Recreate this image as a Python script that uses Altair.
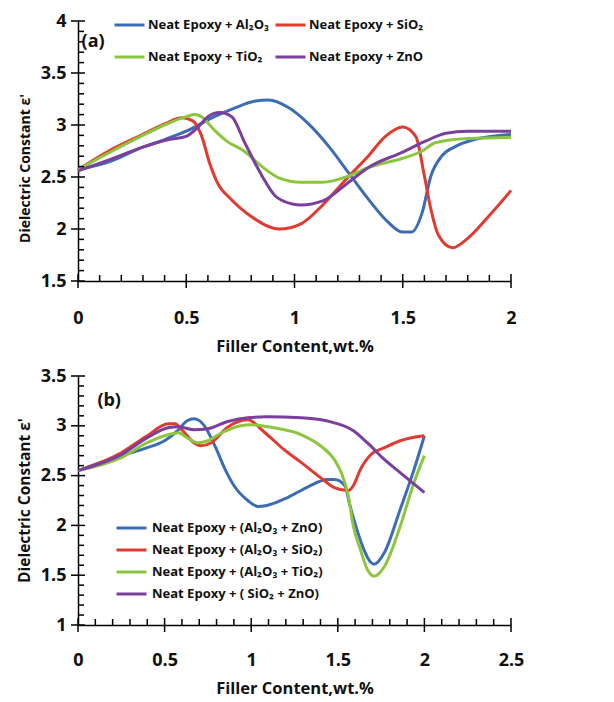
import altair as alt
import pandas as pd
import numpy as np

FONT = "Open Sans"

# ---------------- Panel (a) data ----------------
a_names = ["Neat Epoxy + Al₂O₃", "Neat Epoxy + SiO₂", "Neat Epoxy + TiO₂", "Neat Epoxy + ZnO"]
a_colors = ["#3C6DB4", "#E03A31", "#8CC63E", "#7B3F9E"]

a_al_x = [0, 0.15, 0.29, 0.40, 0.5, 0.63, 0.72, 0.82, 0.88, 0.97, 1.06, 1.16, 1.25, 1.34, 1.43, 1.5, 1.54, 1.59, 1.63, 1.68, 1.74, 1.83, 2.0]
a_al_y = [2.57, 2.65, 2.78, 2.86, 2.94, 3.08, 3.16, 3.23, 3.24, 3.17, 3.02, 2.79, 2.54, 2.29, 2.07, 1.97, 1.97, 2.16, 2.51, 2.70, 2.79, 2.86, 2.91]

a_si_x = [0, 0.15, 0.29, 0.40, 0.48, 0.53, 0.57, 0.61, 0.65, 0.70, 0.80, 0.93, 1.03, 1.13, 1.23, 1.34, 1.42, 1.50, 1.56, 1.60, 1.63, 1.665, 1.73, 1.80, 1.90, 2.0]
a_si_y = [2.57, 2.76, 2.90, 3.01, 3.07, 3.04, 2.90, 2.62, 2.42, 2.30, 2.12, 2.00, 2.05, 2.23, 2.46, 2.70, 2.89, 2.98, 2.89, 2.51, 2.19, 1.94, 1.82, 1.91, 2.13, 2.37]

a_ti_x = [0, 0.15, 0.29, 0.40, 0.5, 0.54, 0.57, 0.63, 0.69, 0.76, 0.85, 0.93, 1.03, 1.13, 1.25, 1.34, 1.5, 1.59, 1.65, 1.8, 2.0]
a_ti_y = [2.57, 2.74, 2.89, 3.00, 3.08, 3.10, 3.08, 2.95, 2.84, 2.76, 2.60, 2.49, 2.45, 2.45, 2.51, 2.59, 2.68, 2.75, 2.83, 2.87, 2.88]

a_zn_x = [0, 0.15, 0.29, 0.42, 0.5, 0.555, 0.60, 0.655, 0.71, 0.77, 0.85, 0.91, 0.99, 1.03, 1.13, 1.25, 1.34, 1.5, 1.6, 1.7, 1.8, 2.0]
a_zn_y = [2.56, 2.67, 2.78, 2.86, 2.89, 2.98, 3.08, 3.12, 3.08, 2.83, 2.51, 2.32, 2.24, 2.23, 2.27, 2.45, 2.59, 2.74, 2.84, 2.92, 2.94, 2.94]

# ---------------- Panel (b) data ----------------
b_names = ["Neat Epoxy + (Al₂O₃ + ZnO)", "Neat Epoxy + (Al₂O₃ + SiO₂)", "Neat Epoxy + (Al₂O₃ + TiO₂)", "Neat Epoxy + ( SiO₂ + ZnO)"]
b_colors = ["#3C6DB4", "#E03A31", "#8CC63E", "#7B3F9E"]

b_alzn_x = [0, 0.25, 0.40, 0.5, 0.58, 0.63, 0.67, 0.73, 0.79, 0.85, 0.90, 0.98, 1.04, 1.09, 1.21, 1.32, 1.44, 1.48, 1.54, 1.57, 1.61, 1.65, 1.69, 1.71, 1.77, 1.86, 1.94, 2.0]
b_alzn_y = [2.55, 2.70, 2.78, 2.85, 2.96, 3.05, 3.07, 3.00, 2.80, 2.56, 2.40, 2.25, 2.19, 2.20, 2.28, 2.38, 2.46, 2.46, 2.40, 2.20, 1.96, 1.76, 1.63, 1.61, 1.73, 2.16, 2.56, 2.90]

b_alsi_x = [0, 0.25, 0.40, 0.52, 0.56, 0.60, 0.67, 0.71, 0.77, 0.86, 0.98, 1.08, 1.19, 1.29, 1.40, 1.48, 1.56, 1.59, 1.63, 1.69, 1.77, 1.86, 2.0]
b_alsi_y = [2.55, 2.73, 2.90, 3.02, 3.02, 2.96, 2.83, 2.80, 2.83, 2.98, 3.06, 2.93, 2.76, 2.63, 2.48, 2.38, 2.35, 2.40, 2.56, 2.71, 2.78, 2.85, 2.90]

b_alti_x = [0, 0.25, 0.40, 0.52, 0.58, 0.63, 0.69, 0.75, 0.83, 0.94, 1.0, 1.13, 1.29, 1.40, 1.48, 1.52, 1.56, 1.59, 1.63, 1.67, 1.71, 1.77, 1.86, 1.94, 2.0]
b_alti_y = [2.55, 2.68, 2.83, 2.91, 2.93, 2.88, 2.83, 2.85, 2.93, 3.00, 3.01, 2.98, 2.91, 2.80, 2.66, 2.53, 2.30, 1.99, 1.76, 1.56, 1.49, 1.59, 1.99, 2.43, 2.70]

b_sizn_x = [0, 0.25, 0.40, 0.52, 0.58, 0.67, 0.75, 0.86, 0.98, 1.09, 1.29, 1.48, 1.59, 1.67, 1.77, 1.86, 2.0]
b_sizn_y = [2.55, 2.71, 2.88, 2.98, 2.99, 2.96, 2.97, 3.04, 3.08, 3.09, 3.08, 3.03, 2.95, 2.83, 2.66, 2.53, 2.33]

# axis ticks / labels
a_x_major = [0, 0.5, 1, 1.5, 2]
a_y_major = [1.5, 2, 2.5, 3, 3.5, 4]
b_x_major = [0, 0.5, 1, 1.5, 2, 2.5]
b_y_major = [1, 1.5, 2, 2.5, 3, 3.5]
panel_labels = ["(a)", "(b)"]
a_label_pos = (0.07, 3.80)
b_label_pos = (0.18, 3.25)


def minor_ticks(lo, hi, step, majors):
    vals = np.round(np.arange(lo, hi + 1e-9, step), 3)
    return [float(v) for v in vals if not any(abs(v - m) < 1e-6 for m in majors)]


def panel(series, names, colors, xdom, ydom, xmaj, ymaj, w, h, label, lpos,
          legend, xlabpad, xtitlepad, ytitle_size, ytitle_y):
    rows = []
    for nm, xs, ys in series:
        rows += [{"x": a, "y": b, "s": nm} for a, b in zip(xs, ys)]
    df = pd.DataFrame(rows)

    xaxis = alt.Axis(values=xmaj, format="~g", ticks=False, grid=False,
                     domainColor="black", domainWidth=1.5,
                     labelFont=FONT, labelFontSize=18, labelFontWeight="bold",
                     labelColor="#111", labelPadding=xlabpad,
                     title="Filler Content,wt.%", titleFont=FONT,
                     titleFontSize=16.5, titleFontWeight="bold", titleColor="#111",
                     titlePadding=xtitlepad, labelFlush=False)
    yaxis = alt.Axis(values=ymaj, format="~g", ticks=False, grid=False,
                     domainColor="black", domainWidth=1.5,
                     labelFont=FONT, labelFontSize=18, labelFontWeight="bold",
                     labelColor="#111", labelPadding=12,
                     title="Dielectric Constant ε'", titleFont=FONT,
                     titleFontSize=ytitle_size, titleFontWeight="bold", titleColor="#111",
                     titlePadding=8, titleY=ytitle_y, labelFlush=False)
    xenc = alt.X("x:Q", scale=alt.Scale(domain=xdom, nice=False, zero=False), axis=xaxis)
    yenc = alt.Y("y:Q", scale=alt.Scale(domain=ydom, nice=False, zero=False), axis=yaxis)

    lines = alt.Chart(df).mark_line(strokeWidth=3, interpolate="monotone").encode(
        x=xenc, y=yenc,
        color=alt.Color("s:N", sort=names,
                        scale=alt.Scale(domain=names, range=colors),
                        legend=legend),
        detail="s:N",
    )

    xt_major = pd.DataFrame({"x": xmaj})
    xt_minor = pd.DataFrame({"x": minor_ticks(xdom[0], xdom[1], 0.1, xmaj)})
    yt_major = pd.DataFrame({"y": ymaj})
    yt_minor = pd.DataFrame({"y": minor_ticks(ydom[0], ydom[1], 0.1, ymaj)})

    tick_style = dict(color="black", strokeWidth=1.5)
    r1 = alt.Chart(xt_major).mark_rule(**tick_style).encode(
        x=xenc, y=alt.value(h + 7), y2=alt.value(h - 7))
    r2 = alt.Chart(xt_minor).mark_rule(**tick_style).encode(
        x=xenc, y=alt.value(h), y2=alt.value(h - 6))
    r3 = alt.Chart(yt_major).mark_rule(**tick_style).encode(
        y=yenc, x=alt.value(-7), x2=alt.value(7))
    r4 = alt.Chart(yt_minor).mark_rule(**tick_style).encode(
        y=yenc, x=alt.value(0), x2=alt.value(6))

    lab = alt.Chart(pd.DataFrame({"x": [lpos[0]], "y": [lpos[1]], "t": [label]})).mark_text(
        font=FONT, fontSize=18, fontWeight="bold", color="#111"
    ).encode(x=xenc, y=yenc, text="t:N")

    return alt.layer(lines, r1, r2, r3, r4, lab).properties(width=w, height=h)


legend_a = alt.Legend(orient="none", legendX=35, legendY=-4, columns=2,
                      direction="horizontal", clipHeight=16,
                      symbolType="stroke", symbolSize=900, symbolStrokeWidth=3,
                      labelFont=FONT, labelFontSize=13, labelFontWeight="bold",
                      labelColor="#111", title=None, columnPadding=5,
                      rowPadding=16, labelOffset=2, padding=0, labelLimit=300)
legend_b = alt.Legend(orient="none", legendX=37, legendY=144, columns=1,
                      direction="vertical", clipHeight=16,
                      symbolType="stroke", symbolSize=900, symbolStrokeWidth=3,
                      labelFont=FONT, labelFontSize=13, labelFontWeight="bold",
                      labelColor="#111", title=None, rowPadding=6,
                      labelOffset=4, padding=0, labelLimit=300)

top = panel(
    [(a_names[0], a_al_x, a_al_y), (a_names[1], a_si_x, a_si_y),
     (a_names[2], a_ti_x, a_ti_y), (a_names[3], a_zn_x, a_zn_y)],
    a_names, a_colors, [0, 2], [1.5, 4], a_x_major, a_y_major, 433, 260,
    panel_labels[0], a_label_pos, legend_a, 28, 11, 14, 147)

bottom = panel(
    [(b_names[0], b_alzn_x, b_alzn_y), (b_names[1], b_alsi_x, b_alsi_y),
     (b_names[2], b_alti_x, b_alti_y), (b_names[3], b_sizn_x, b_sizn_y)],
    b_names, b_colors, [0, 2.5], [1, 3.5], b_x_major, b_y_major, 433, 249,
    panel_labels[1], b_label_pos, legend_b, 26, 11, 15.5, 124)

chart = alt.vconcat(top, bottom, spacing=12).resolve_scale(
    color="independent", x="independent", y="independent"
).configure_view(stroke=None).properties(
    padding={"left": 9, "top": 4, "right": 5, "bottom": 3}
)

chart.save("out.html", embed_options={"renderer": "svg", "actions": False})
